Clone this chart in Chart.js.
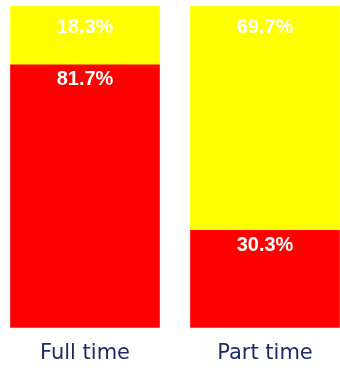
<!DOCTYPE html>
<html>
<head>
<meta charset="utf-8">
<script src="https://cdn.jsdelivr.net/npm/chart.js@4"></script>
<style>
  html, body { margin: 0; padding: 0; background: #fff; overflow: hidden; }
  #wrap { position: absolute; left: -5px; top: 0; width: 360px; height: 383px; }
</style>
</head>
<body>
<div id="wrap"><canvas id="chart"></canvas></div>
<script>
const categories = ['Full time', 'Part time'];
const redValues = [81.7, 30.3];
const yellowValues = [18.3, 69.7];

// writes the percentages inside each segment, near its top edge
const segmentLabels = {
  id: 'segmentLabels',
  afterDatasetsDraw(chart) {
    const ctx = chart.ctx;
    ctx.save();
    ctx.fillStyle = '#ffffff';
    ctx.font = 'bold 20px "Liberation Sans", Arial, sans-serif';
    ctx.textAlign = 'center';
    ctx.textBaseline = 'middle';
    chart.data.datasets.forEach((ds, i) => {
      const meta = chart.getDatasetMeta(i);
      const offset = i === 1 ? 21 : 15;
      meta.data.forEach((bar, j) => {
        ctx.fillText(ds.data[j].toFixed(1) + '%', bar.x, bar.y + offset);
      });
    });
    ctx.restore();
  }
};

new Chart(document.getElementById('chart'), {
  type: 'bar',
  data: {
    labels: categories,
    datasets: [
      { label: 'red', data: redValues, backgroundColor: '#ff0000', barThickness: 149 },
      { label: 'yellow', data: yellowValues, backgroundColor: '#ffff00', barThickness: 149 }
    ]
  },
  options: {
    responsive: true,
    maintainAspectRatio: false,
    animation: false,
    layout: { padding: { top: 6, bottom: 4, left: 0, right: 0 } },
    scales: {
      x: {
        stacked: true,
        grid: { display: false, drawTicks: false },
        border: { display: false },
        ticks: {
          color: '#1f2a6b',
          padding: 13,
          font: { family: '"DejaVu Sans", sans-serif', size: 21 }
        }
      },
      y: {
        stacked: true,
        display: false,
        min: 0,
        max: 100
      }
    },
    plugins: {
      legend: { display: false },
      tooltip: { enabled: false }
    }
  },
  plugins: [segmentLabels]
});
</script>
</body>
</html>
